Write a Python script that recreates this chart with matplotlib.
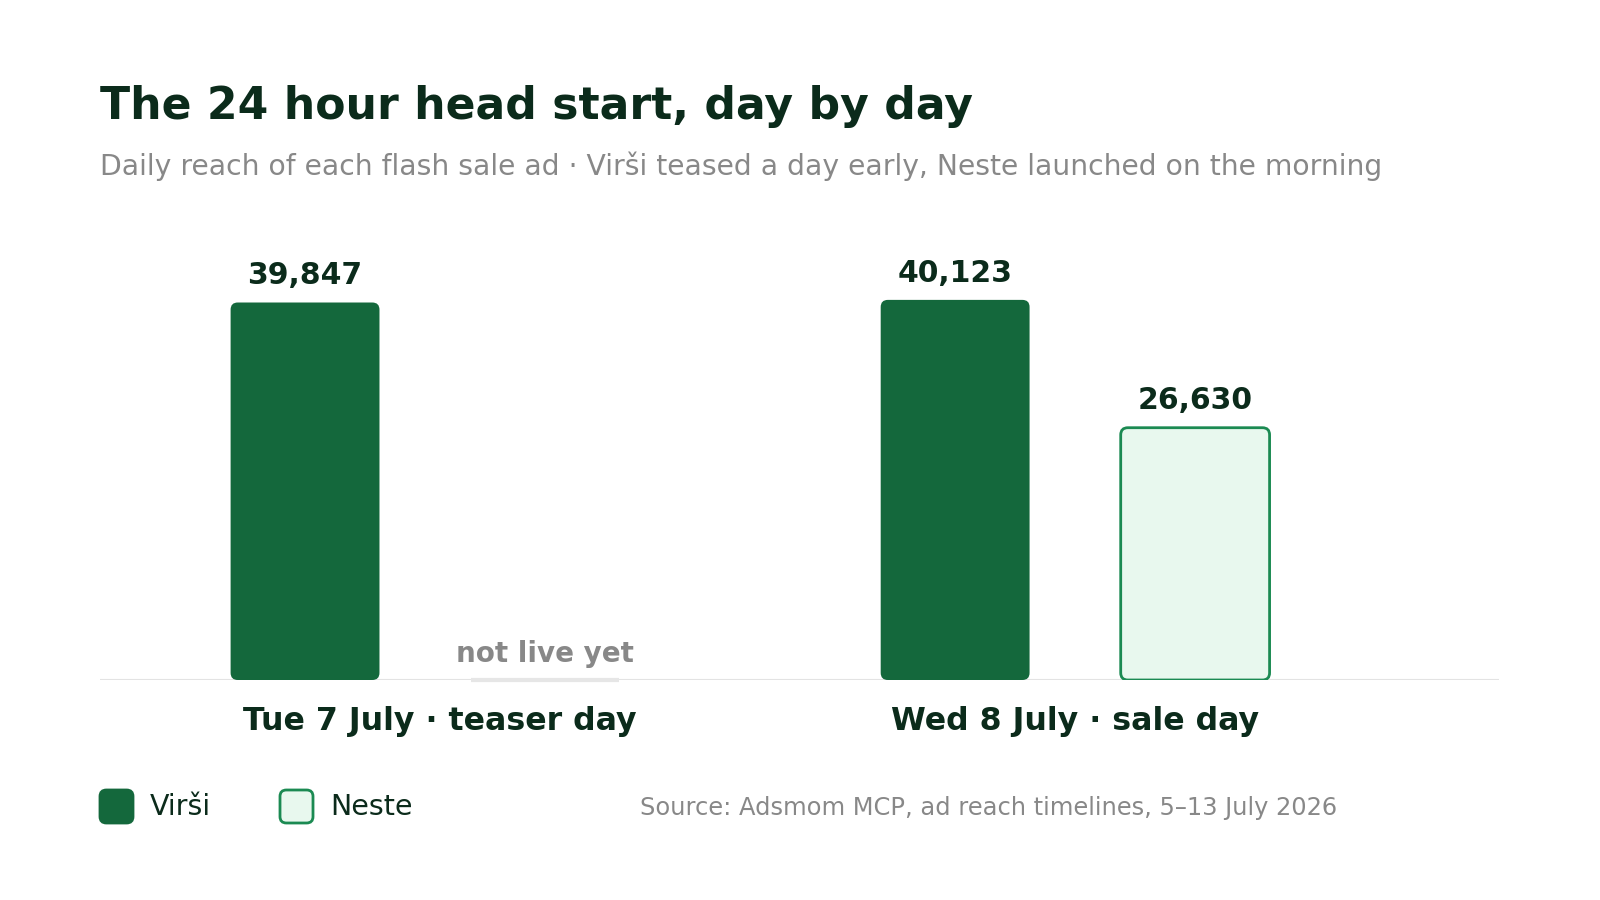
import matplotlib.pyplot as plt
import matplotlib.transforms as mtransforms
from matplotlib.patches import FancyBboxPatch

plt.rcParams["font.family"] = ["DejaVu Sans"]

# data
days = ["Tue 7 July · teaser day", "Wed 8 July · sale day"]
brands = ["Virši", "Neste"]
virsi = [39847, 40123]
neste = [None, 26630]  # Neste not live on Tue

DARK = "#0b2b1b"
GREEN = "#14683c"
N_FILL = "#e8f8ee"
N_EDGE = "#1b8a52"
GRAY = "#888888"

fig = plt.figure(figsize=(16, 9), dpi=100)
fig.patch.set_facecolor("white")

ax = fig.add_axes([100 / 1600, 220 / 900, 1399 / 1600, 450 / 900])
xmin, xmax = -0.5, 1.652
ymax = 47500
ax.set_xlim(xmin, xmax)
ax.set_ylim(0, ymax)
for s in ax.spines.values():
    s.set_visible(False)
ax.set_yticks([])

w = 0.229
off = 0.1846
# aspect so rounded corners look round on screen
aspect = (ymax / 450) / ((xmax - xmin) / 1399)
r = 0.011


def rbar(x, h, fc, ec=None, lw=0):
    p = FancyBboxPatch((x - w / 2, 0), w, h,
                       boxstyle=f"round,pad=0,rounding_size={r}",
                       mutation_aspect=aspect, fc=fc,
                       ec=ec if ec else fc, lw=lw, zorder=3)
    ax.add_patch(p)


for i, day in enumerate(days):
    xv = i - off
    rbar(xv, virsi[i], GREEN)
    ax.text(xv, virsi[i] + 1300, f"{virsi[i]:,}", ha="center", va="bottom",
            fontsize=21.5, fontweight="bold", color=DARK)
    xn = i + off
    if neste[i] is None:
        ax.plot([xn - w / 2, xn + w / 2], [0, 0], color="#e6e6e6", lw=3,
                solid_capstyle="butt", zorder=4, clip_on=False)
        ax.text(xn, 1300, "not live yet", ha="center", va="bottom",
                fontsize=20, fontweight="bold", color=GRAY)
    else:
        rbar(xn, neste[i], N_FILL, N_EDGE, 2.0)
        ax.text(xn, neste[i] + 1300, f"{neste[i]:,}", ha="center", va="bottom",
                fontsize=21.5, fontweight="bold", color=DARK)

ax.axhline(0, color="#e3e3e3", lw=1.5, zorder=2)
ax.set_xticks(range(len(days)))
ax.set_xticklabels(days, fontsize=22.8, fontweight="bold", color=DARK)
ax.tick_params(axis="x", length=0, pad=19)
# the teaser-day label sits a little right of its group in the original
lbl0 = ax.get_xticklabels()[0]
lbl0.set_transform(lbl0.get_transform() +
                   mtransforms.ScaledTranslation(0.15, 0, fig.dpi_scale_trans))

# title and subtitle
fig.text(100 / 1600, 1 - 119 / 900, "The 24 hour head start, day by day",
         fontsize=31.8, fontweight="bold", color=DARK, va="baseline")
fig.text(100 / 1600, 1 - 175 / 900,
         "Daily reach of each flash sale ad · Virši teased a day early, Neste launched on the morning",
         fontsize=20.3, color=GRAY, va="baseline")

# legend
leg = [(100, brands[0], GREEN, GREEN), (280, brands[1], N_FILL, N_EDGE)]
for x0, lab, fc, ec in leg:
    sq = FancyBboxPatch((x0 / 1600, 1 - 823 / 900), 33 / 1600, 33 / 900,
                        boxstyle="round,pad=0,rounding_size=0.004",
                        mutation_aspect=16 / 9, fc=fc, ec=ec, lw=2.0,
                        transform=fig.transFigure)
    fig.patches.append(sq)
    fig.text((x0 + 50) / 1600, 1 - 807 / 900, lab, fontsize=20.5, color=DARK,
             va="center")

fig.text(640 / 1600, 1 - 808 / 900,
         "Source: Adsmom MCP, ad reach timelines, 5–13 July 2026",
         fontsize=17.4, color=GRAY, va="center")

fig.savefig("out.png", dpi=100)
